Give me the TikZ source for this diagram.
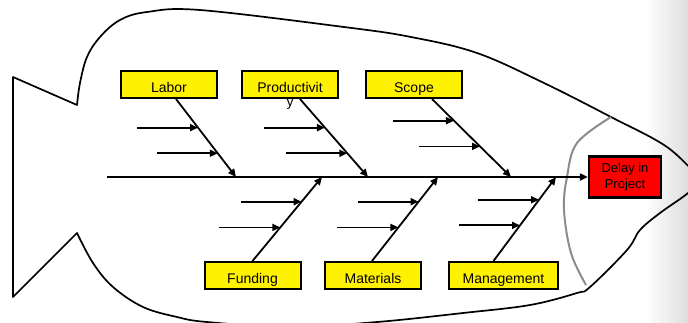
\documentclass[tikz,border=0pt]{standalone}
\usepackage{fontspec}
\setmainfont{Liberation Sans}
\usetikzlibrary{arrows.meta,calc}

\begin{document}
\begin{tikzpicture}[x=1pt,y=-1pt,
  outline/.style={line width=1.7pt, line join=round},
  cause/.style={draw, line width=2pt, fill=yellow, minimum width=96pt,
    minimum height=27pt, inner sep=0pt, text height=15pt, text depth=0pt,
    font=\fontsize{14}{16}\selectfont},
  effect/.style={draw, line width=2.2pt, fill=red, minimum width=72pt,
    minimum height=41pt, inner sep=0pt, align=center,
    font=\fontsize{13}{15.5}\selectfont},
  bone/.style={line width=1.8pt, -{Triangle[length=8pt,width=7pt]}},
  twig/.style={line width=1.8pt, -{Triangle[length=8pt,width=7pt]}},
]
\clip (0,0) rectangle (688,322);
\fill[white] (0,0) rectangle (688,322);
\shade[left color=white, right color=black!13] (645,0) rectangle (688,322);

% fish body
\draw[outline] (13,297) -- (13,77) -- (77,105)
  -- plot[smooth, tension=0.6] coordinates {(77,105) (80,83) (87,57) (100,37)
     (120,20) (147,12) (200,10) (344,27) (411,37) (477,53) (544,83) (611,117)
     (667,147) (700,179)}
  -- plot[smooth, tension=0.6] coordinates {(700,179) (688,193) (660,213)
     (640,230) (627,250) (590,287) (577,293) (530,305) (463,313) (377,322)
     (290,327) (207,322) (177,317) (143,307) (113,287) (93,263) (77,233)}
  -- cycle;

% gill line
\draw[line width=2pt, black!45] plot[smooth, tension=0.6] coordinates {(611,117)
  (577,143) (567,177) (564,210) (571,253) (586,285)};

% head
\node[effect] (delay) at (625,177) {Delay in\\Project};

% cause boxes
\node[cause] (labor) at (169,84.5) {Labor};
\node[cause] (prod) at (290,84.5) {Productivit};
\node[font=\fontsize{14}{16}\selectfont, inner sep=0pt, anchor=base] (prody) at (290,106) {y};
\node[cause] (scope) at (414,84.5) {Scope};
\node[cause] (fund) at (252.5,275.5) {Funding};
\node[cause] (mat) at (373,275.5) {Materials};
\node[cause, minimum width=109pt] (mgmt) at (503.5,275.5) {Management};

% spine
\coordinate (tail) at (107,177);
\draw[bone] (tail) -- (delay.west);

% bones meeting the spine
\coordinate (lab1) at ($(labor.south)+(7,0)$);
\coordinate (lab2) at (236,177);
\coordinate (pro1) at ($(prod.south)+(10,0)$);
\coordinate (pro2) at (368,177);
\coordinate (sco1) at ($(scope.south)+(18,0)$);
\coordinate (sco2) at (511,177);
\coordinate (fun1) at (fund.north);
\coordinate (fun2) at (322,177);
\coordinate (mat1) at ($(mat.north)+(-1,0)$);
\coordinate (mat2) at (438,177);
\coordinate (man1) at ($(mgmt.north)+(-10,0)$);
\coordinate (man2) at (556,177);

\foreach \a/\b in {lab1/lab2, pro1/pro2, sco1/sco2, fun1/fun2, mat1/mat2, man1/man2}
  \draw[bone] (\a) -- (\b);

% sub-causes
\foreach \a/\b/\t/\n in {lab1/lab2/0.367/la, lab1/lab2/0.696/lb,
    pro1/pro2/0.367/pa, pro1/pro2/0.696/pb,
    sco1/sco2/0.278/sa, sco1/sco2/0.608/sb,
    fun1/fun2/0.706/fa, fun1/fun2/0.40/fb,
    mat1/mat2/0.706/ma, mat1/mat2/0.40/mb,
    man1/man2/0.729/na, man1/man2/0.424/nb} {
  \coordinate (\n) at ($(\a)!\t!(\b)$);
  \draw[twig] ([xshift=-61pt]\n) -- (\n);
}
\end{tikzpicture}
\end{document}
